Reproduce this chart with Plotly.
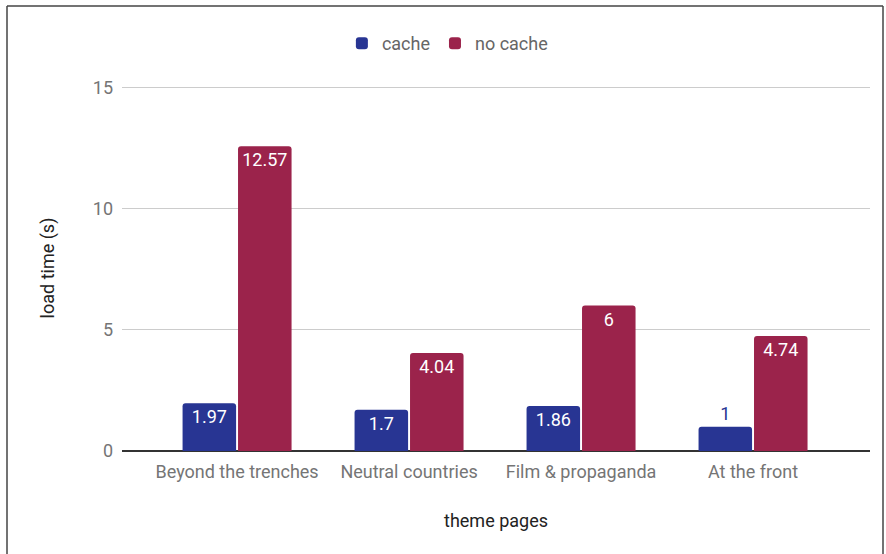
import plotly.graph_objects as go

categories = ["Beyond the trenches", "Neutral countries", "Film & propaganda", "At the front"]
cache = [1.97, 1.7, 1.86, 1]
no_cache = [12.57, 4.04, 6, 4.74]
y_ticks = [0, 5, 10, 15]

C_CACHE = "#283593"
C_NOCACHE = "#9b234b"
FONT = "Roboto"
FS = 18

def positions(vals):
    return ["outside" if v < 1.5 else "inside" for v in vals]

fig = go.Figure()
for name, vals, col in [("cache", cache, C_CACHE), ("no cache", no_cache, C_NOCACHE)]:
    fig.add_trace(go.Bar(
        name=name, x=categories, y=vals,
        marker=dict(color=col, line=dict(width=0)),
        text=[f"{v:g}" for v in vals], textposition=positions(vals),
        insidetextanchor="end", cliponaxis=False,
        insidetextfont=dict(color="white", size=FS, family=FONT),
        outsidetextfont=dict(color=col, size=FS, family=FONT),
    ))

fig.update_layout(
    width=886, height=554, barmode="group", bargap=0.355, bargroupgap=0.035,
    barcornerradius=3,
    margin=dict(l=122, r=16, t=85, b=103),
    paper_bgcolor="white", plot_bgcolor="white",
    font=dict(family=FONT, size=FS, color="#757575"),
    showlegend=True,
    legend=dict(orientation="h", x=0.435, xanchor="center", y=1.113, yanchor="middle",
                font=dict(size=FS, color="#666666"), itemclick=False),
    xaxis=dict(type="category", range=[-0.669, 3.680], showgrid=False, ticks="",
               ticklabelstandoff=8,
               tickfont=dict(size=FS, color="#757575"),
               title=dict(text="theme pages", font=dict(size=FS, color="#222222"), standoff=33)),
    yaxis=dict(range=[0, 15.1], tickvals=y_ticks, showgrid=True, gridcolor="#cccccc",
               gridwidth=1, zeroline=True, zerolinecolor="#333333", zerolinewidth=2,
               ticks="", ticklabelstandoff=8,
               tickfont=dict(size=FS, color="#757575"),
               title=dict(text="load time (s)", font=dict(size=FS, color="#222222"), standoff=33)),
    shapes=[
        dict(type="line", xref="paper", yref="paper", x0=-115/748, x1=-115/748,
             y0=(451-6)/366, y1=-103/366 - 0.05, line=dict(color="#444444", width=1.5)),
        dict(type="line", xref="paper", yref="paper", x0=-115/748, x1=(883-122)/748,
             y0=(451-6)/366, y1=(451-6)/366, line=dict(color="#444444", width=1.5)),
        dict(type="line", xref="paper", yref="paper", x0=(883-122)/748, x1=(883-122)/748,
             y0=(451-6)/366, y1=-103/366 - 0.05, line=dict(color="#444444", width=1.5)),
    ],
)

fig.write_html("out.html")
